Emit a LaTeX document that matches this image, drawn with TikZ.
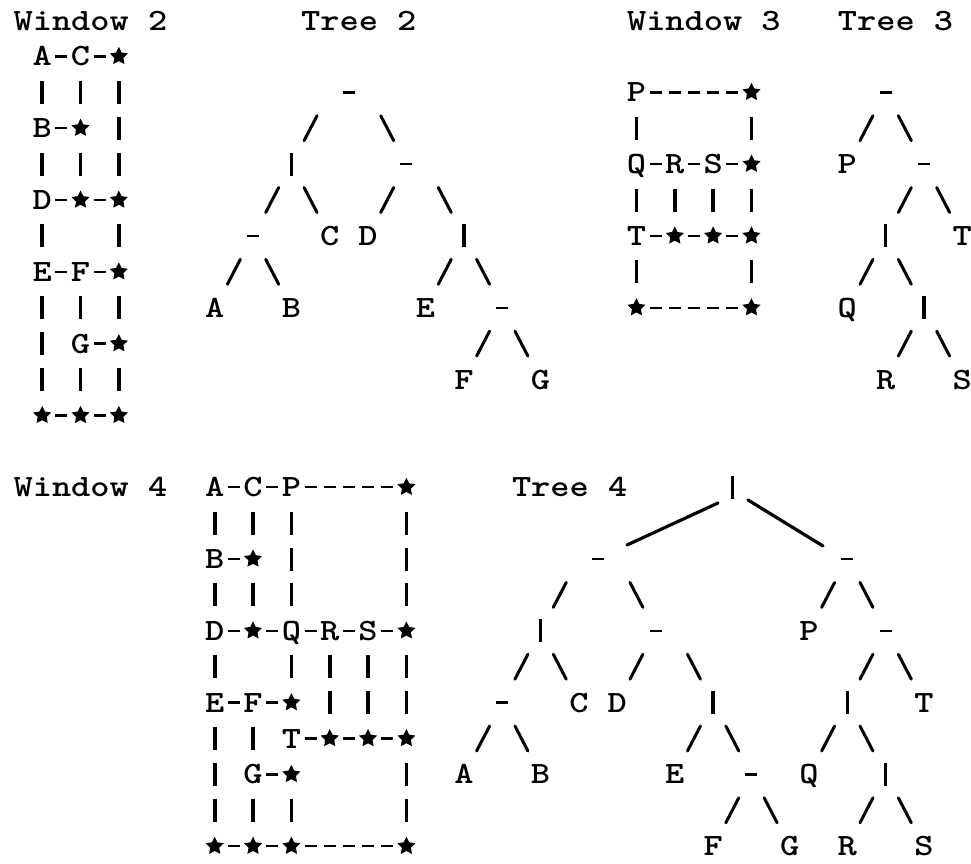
\documentclass[tikz,border=0pt]{standalone}
\usetikzlibrary{shapes.geometric}
\newcounter{gc}
\newcommand\ox{0}
\newcommand\oy{0}
\newcommand\gl[1]{\scalebox{1.18}[1]{#1}}
\newcommand\gx[1]{23+19.17*(\ox+#1)}
\newcommand\gy[1]{20.5+35.9*(\oy+#1)}
\tikzset{
  lt/.style={anchor=base, inner sep=0pt, font=\fontsize{31}{31}\selectfont\ttfamily\bfseries},
  hd/.style={anchor=base west, inner sep=0pt, font=\fontsize{31}{31}\selectfont\ttfamily\bfseries},
  st/.style={star, star points=5, star point ratio=2.0, minimum size=19pt, inner sep=0pt, fill=black, draw=none},
  br/.style={line width=3.6pt},
  ds/.style={line width=2.4pt},
  sl/.style={line width=3pt, line cap=round},
  ln/.style={line width=3.2pt, line cap=round},
}
\newcommand\Lt[3]{\stepcounter{gc}\node[lt] (g\arabic{gc}) at ({\gx{#1}},{\gy{#2}+9.5}) {\gl{#3}};}
\newcommand\Hd[3]{\stepcounter{gc}\node[hd] (g\arabic{gc}) at ({\gx{#1}-9.6},{\gy{#2}+9.5}) {\gl{#3}};}
\newcommand\St[2]{\stepcounter{gc}\node[st] (g\arabic{gc}) at ({\gx{#1}},{\gy{#2}}) {};}
\newcommand\Br[2]{\draw[br] ({\gx{#1}},{\gy{#2}-11.5}) -- ++(0,23);}
\newcommand\Ds[2]{\draw[ds] ({\gx{#1}-6},{\gy{#2}}) -- ++(12,0);}
\newcommand\Sl[2]{\draw[sl] ({\gx{#1}-6.5},{\gy{#2}+12.5}) -- ++(13,-25);}
\newcommand\Bs[2]{\draw[sl] ({\gx{#1}-6.5},{\gy{#2}-12.5}) -- ++(13,25);}
\newcommand\TreeAB{%
\Ds{17}{2}
\Sl{15}{3}\Bs{19}{3}
\Br{14}{4}\Ds{20}{4}
\Sl{13}{5}\Bs{15}{5}\Sl{19}{5}\Bs{22}{5}
\Ds{12}{6}\Lt{16}{6}{C}\Lt{18}{6}{D}\Br{23}{6}
\Sl{11}{7}\Bs{13}{7}\Sl{22}{7}\Bs{24}{7}
\Lt{10}{8}{A}\Lt{14}{8}{B}\Lt{21}{8}{E}\Ds{25}{8}
\Sl{24}{9}\Bs{26}{9}
\Lt{23}{10}{F}\Lt{27}{10}{G}}
\newcommand\TreePQ{%
\Ds{45}{2}
\Sl{44}{3}\Bs{46}{3}
\Lt{43}{4}{P}\Ds{47}{4}
\Sl{46}{5}\Bs{48}{5}
\Br{45}{6}\Lt{49}{6}{T}
\Sl{44}{7}\Bs{46}{7}
\Lt{43}{8}{Q}\Br{47}{8}
\Sl{46}{9}\Bs{48}{9}
\Lt{45}{10}{R}\Lt{49}{10}{S}}
\begin{document}
\begin{tikzpicture}[x=1pt,y=-1pt]
\fill[white] (0,0) rectangle (971,863);
\useasboundingbox (0,0) rectangle (971,863);
% ---------------- Window 2
\Hd{0}{0}{Window 2}
\Lt{1}{1}{A}\Ds{2}{1}\Lt{3}{1}{C}\Ds{4}{1}\St{5}{1}
\Br{1}{2}\Br{3}{2}\Br{5}{2}
\Lt{1}{3}{B}\Ds{2}{3}\St{3}{3}\Br{5}{3}
\Br{1}{4}\Br{3}{4}\Br{5}{4}
\Lt{1}{5}{D}\Ds{2}{5}\St{3}{5}\Ds{4}{5}\St{5}{5}
\Br{1}{6}\Br{5}{6}
\Lt{1}{7}{E}\Ds{2}{7}\Lt{3}{7}{F}\Ds{4}{7}\St{5}{7}
\Br{1}{8}\Br{3}{8}\Br{5}{8}
\Br{1}{9}\Lt{3}{9}{G}\Ds{4}{9}\St{5}{9}
\Br{1}{10}\Br{3}{10}\Br{5}{10}
\St{1}{11}\Ds{2}{11}\St{3}{11}\Ds{4}{11}\St{5}{11}
% ---------------- Tree 2
\Hd{15}{0}{Tree 2}
\TreeAB
% ---------------- Window 3
\Hd{32}{0}{Window 3}
\Lt{32}{2}{P}\foreach \c in {33,...,37}{\Ds{\c}{2}}\St{38}{2}
\Br{32}{3}\Br{38}{3}
\Lt{32}{4}{Q}\Ds{33}{4}\Lt{34}{4}{R}\Ds{35}{4}\Lt{36}{4}{S}\Ds{37}{4}\St{38}{4}
\Br{32}{5}\Br{34}{5}\Br{36}{5}\Br{38}{5}
\Lt{32}{6}{T}\Ds{33}{6}\St{34}{6}\Ds{35}{6}\St{36}{6}\Ds{37}{6}\St{38}{6}
\Br{32}{7}\Br{38}{7}
\St{32}{8}\foreach \c in {33,...,37}{\Ds{\c}{8}}\St{38}{8}
% ---------------- Tree 3
\Hd{43}{0}{Tree 3}
\TreePQ
% ---------------- Window 4
\Hd{0}{13}{Window 4}
\Lt{10}{13}{A}\Ds{11}{13}\Lt{12}{13}{C}\Ds{13}{13}\Lt{14}{13}{P}\foreach \c in {15,...,19}{\Ds{\c}{13}}\St{20}{13}
\Br{10}{14}\Br{12}{14}\Br{14}{14}\Br{20}{14}
\Lt{10}{15}{B}\Ds{11}{15}\St{12}{15}\Br{14}{15}\Br{20}{15}
\Br{10}{16}\Br{12}{16}\Br{14}{16}\Br{20}{16}
\Lt{10}{17}{D}\Ds{11}{17}\St{12}{17}\Ds{13}{17}\Lt{14}{17}{Q}\Ds{15}{17}\Lt{16}{17}{R}\Ds{17}{17}\Lt{18}{17}{S}\Ds{19}{17}\St{20}{17}
\Br{10}{18}\Br{14}{18}\Br{16}{18}\Br{18}{18}\Br{20}{18}
\Lt{10}{19}{E}\Ds{11}{19}\Lt{12}{19}{F}\Ds{13}{19}\St{14}{19}\Br{16}{19}\Br{18}{19}\Br{20}{19}
\Br{10}{20}\Br{12}{20}\Lt{14}{20}{T}\Ds{15}{20}\St{16}{20}\Ds{17}{20}\St{18}{20}\Ds{19}{20}\St{20}{20}
\Br{10}{21}\Lt{12}{21}{G}\Ds{13}{21}\St{14}{21}\Br{20}{21}
\Br{10}{22}\Br{12}{22}\Br{14}{22}\Br{20}{22}
\St{10}{23}\Ds{11}{23}\St{12}{23}\Ds{13}{23}\St{14}{23}\foreach \c in {15,...,19}{\Ds{\c}{23}}\St{20}{23}
% ---------------- Tree 4
\Hd{26}{13}{Tree 4}
\Br{37}{13}
\coordinate (rootL) at (718,503);
\coordinate (rootR) at (748,500);
\coordinate (kidL) at (627,545);
\coordinate (kidR) at (823,546);
\draw[ln] (rootL) -- (kidL);
\draw[ln] (rootR) -- (kidR);
\renewcommand\ox{13}\renewcommand\oy{13}
\TreeAB
\renewcommand\ox{-2}
\TreePQ
\end{tikzpicture}
\end{document}
